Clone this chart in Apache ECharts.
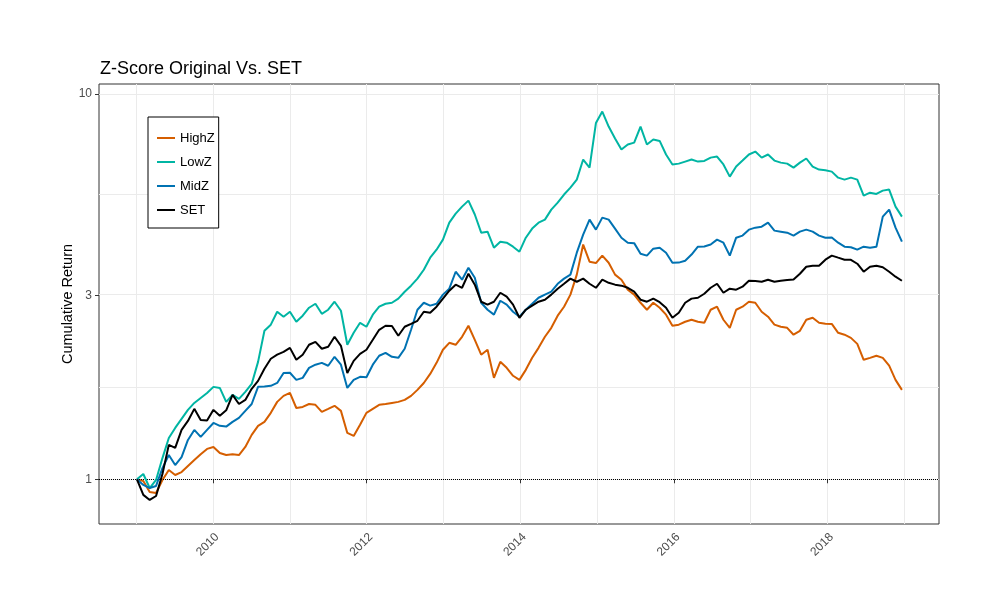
<!DOCTYPE html>
<html><head><meta charset="utf-8">
<script src="https://cdn.jsdelivr.net/npm/echarts@6/dist/echarts.min.js"></script>
<style>html,body{margin:0;padding:0;background:#fff}#c{width:1000px;height:600px}</style>
</head><body><div id="c"></div><script>
// Monthly observations, early January 2009 to late December 2018
const startYear = 2009.01;
const endYear = 2018.97;
const seriesNames = ['HighZ', 'LowZ', 'MidZ', 'SET'];
const highZ = [1.00,0.99,0.927,0.921,0.996,1.057,1.026,1.044,1.083,1.122,
1.162,1.199,1.213,1.170,1.156,1.162,1.156,1.213,1.304,1.376,
1.409,1.487,1.588,1.646,1.675,1.531,1.541,1.568,1.560,1.496,
1.523,1.551,1.505,1.319,1.296,1.385,1.487,1.523,1.560,1.568,
1.578,1.588,1.607,1.646,1.706,1.778,1.877,2.005,2.168,2.260,
2.234,2.343,2.503,2.301,2.105,2.168,1.833,2.017,1.946,1.856,
1.811,1.923,2.066,2.193,2.343,2.472,2.658,2.804,3.014,3.397,
4.065,3.669,3.64,3.805,3.647,3.397,3.295,3.104,3.014,2.871,
2.754,2.871,2.787,2.674,2.503,2.519,2.563,2.594,2.563,2.547,
2.754,2.804,2.594,2.472,2.754,2.804,2.889,2.871,2.721,2.641,
2.519,2.488,2.472,2.372,2.428,2.594,2.625,2.547,2.532,2.53,
2.399,2.372,2.328,2.246,2.042,2.066,2.092,2.066,1.971,1.811,
1.706];
const lowZ = [1.00,1.032,0.949,0.996,1.135,1.280,1.359,1.435,1.514,1.578,
1.626,1.675,1.737,1.726,1.588,1.656,1.617,1.686,1.768,2.017,
2.428,2.519,2.721,2.641,2.721,2.563,2.658,2.787,2.854,2.688,
2.754,2.889,2.738,2.234,2.399,2.547,2.488,2.674,2.804,2.854,
2.871,2.943,3.067,3.180,3.316,3.498,3.758,3.943,4.186,4.633,
4.889,5.099,5.285,4.864,4.364,4.391,3.989,4.136,4.110,4.014,
3.896,4.235,4.473,4.633,4.718,5.009,5.221,5.481,5.711,5.993,
6.755,6.438,8.4,9.0,8.228,7.662,7.171,7.392,7.476,8.228,
7.392,7.613,7.55,6.963,6.559,6.593,6.674,6.755,6.674,6.70,
6.834,6.877,6.559,6.101,6.478,6.714,6.963,7.085,6.834,6.963,
6.714,6.633,6.593,6.438,6.633,6.798,6.478,6.362,6.34,6.286,
6.063,5.993,6.063,5.993,5.447,5.543,5.50,5.611,5.645,5.099,
4.804];
const midZ = [1.00,0.967,0.949,0.961,1.069,1.156,1.089,1.142,1.265,1.343,
1.288,1.343,1.400,1.376,1.37,1.409,1.443,1.505,1.568,1.737,
1.74,1.748,1.778,1.888,1.89,1.811,1.833,1.946,1.983,2.005,
1.971,2.079,1.983,1.726,1.811,1.844,1.84,1.983,2.092,2.129,
2.079,2.066,2.181,2.443,2.754,2.871,2.822,2.854,3.014,3.123,
3.456,3.295,3.540,3.335,2.871,2.754,2.674,2.906,2.839,2.721,
2.641,2.754,2.854,2.958,3.014,3.067,3.216,3.316,3.397,3.872,
4.315,4.718,4.444,4.775,4.718,4.473,4.235,4.110,4.10,3.848,
3.805,3.967,3.989,3.872,3.647,3.65,3.692,3.829,4.014,4.02,
4.065,4.186,4.110,3.805,4.235,4.289,4.444,4.497,4.524,4.633,
4.418,4.391,4.364,4.289,4.391,4.444,4.391,4.289,4.235,4.24,
4.110,4.014,4.00,3.943,4.014,3.989,4.014,4.803,5.009,4.497,
4.136];
const setIdx = [1.00,0.911,0.884,0.905,1.032,1.228,1.206,1.343,1.417,1.523,
1.426,1.42,1.514,1.461,1.51,1.656,1.568,1.607,1.717,1.800,
1.936,2.055,2.105,2.142,2.193,2.042,2.105,2.234,2.273,2.181,
2.207,2.343,2.220,1.888,2.029,2.116,2.168,2.301,2.443,2.503,
2.50,2.358,2.488,2.532,2.578,2.721,2.704,2.804,2.943,3.085,
3.199,3.140,3.414,3.199,2.889,2.839,2.889,3.048,2.977,2.839,
2.625,2.754,2.822,2.889,2.924,3.014,3.123,3.216,3.316,3.255,
3.316,3.216,3.140,3.295,3.235,3.199,3.180,3.140,3.067,2.924,
2.889,2.943,2.88,2.787,2.625,2.704,2.871,2.943,2.958,3.030,
3.140,3.216,3.048,3.123,3.104,3.160,3.275,3.27,3.255,3.295,
3.255,3.275,3.29,3.30,3.414,3.561,3.582,3.58,3.714,3.805,
3.759,3.714,3.71,3.625,3.456,3.561,3.582,3.55,3.456,3.355,
3.275];
const xTickLabels = [2010, 2012, 2014, 2016, 2018];
const xMinorBreaks = [2009, 2011, 2013, 2015, 2017, 2019];
const yTickLabels = [1, 3, 10];
const yMinorBreaks = [Math.sqrt(3), Math.sqrt(30)];
const referenceLevel = 1;

const colors = ['#D55E00', '#00B5A3', '#0072B2', '#000000'];
const allData = [highZ, lowZ, midZ, setIdx];
const FONT = 'Liberation Sans, Arial, sans-serif';
const lg = v => Math.log10(v);
const step = (endYear - startYear) / (highZ.length - 1);
const toPts = arr => arr.map((v, i) => [startYear + i * step, lg(v)]);

const gridCol = '#EBEBEB';
const gridLines = [];
xTickLabels.forEach(x => gridLines.push({xAxis: x, lineStyle: {color: gridCol, width: 1, type: 'solid'}}));
xMinorBreaks.forEach(x => gridLines.push({xAxis: x, lineStyle: {color: gridCol, width: 1, type: 'solid'}}));
yTickLabels.forEach(y => gridLines.push({yAxis: lg(y), lineStyle: {color: gridCol, width: 1, type: 'solid'}}));
yMinorBreaks.forEach(y => gridLines.push({yAxis: lg(y), lineStyle: {color: gridCol, width: 1, type: 'solid'}}));

const series = [{
  type: 'line', data: [], silent: true, z: 0,
  markLine: {z: 0, symbol: ['none', 'none'], silent: true, label: {show: false}, animation: false, data: gridLines}
}];
seriesNames.forEach((n, i) => {
  series.push({
    name: n, type: 'line', data: toPts(allData[i]), symbol: 'none', showSymbol: false,
    lineStyle: {color: colors[i], width: 2}, itemStyle: {color: colors[i]}, z: 2 + i, animation: false
  });
});
series.push({
  type: 'line', data: [], silent: true, z: 3,
  markLine: {z: 3, symbol: ['none', 'none'], silent: true, label: {show: false}, animation: false,
    data: [{yAxis: lg(referenceLevel), lineStyle: {color: '#000', width: 1, type: 'dotted'}}]}
});

const chart = echarts.init(document.getElementById('c'));
chart.setOption({
  animation: false,
  backgroundColor: '#fff',
  title: {text: 'Z-Score Original Vs. SET', left: 95, top: 55,
    textStyle: {fontSize: 18, fontWeight: 'normal', color: '#000', fontFamily: FONT}},
  grid: {left: 99, right: 61, top: 84, bottom: 76, show: true, borderColor: '#333', borderWidth: 1, backgroundColor: '#fff'},
  legend: {orient: 'vertical', left: 148, top: 117, data: seriesNames, icon: 'rect', itemWidth: 18, itemHeight: 2, itemGap: 10,
    padding: [14, 4, 11, 9], borderColor: '#000', borderWidth: 1, backgroundColor: '#fff', z: 10,
    textStyle: {fontSize: 13, lineHeight: 14, color: '#000', fontFamily: FONT}},
  xAxis: {type: 'value', min: 2008.516, max: 2019.453,
    splitLine: {show: false}, axisLine: {show: false},
    axisTick: {show: true, customValues: xTickLabels, length: 4, lineStyle: {color: '#333'}},
    axisLabel: {customValues: xTickLabels, rotate: 45, color: '#4D4D4D', fontSize: 12, margin: 7, verticalAlign: 'top',
      fontFamily: FONT, formatter: v => String(Math.round(v))}},
  yAxis: {type: 'value', min: lg(0.7655), max: lg(10.61),
    name: 'Cumulative Return', nameLocation: 'middle', nameGap: 24, nameRotate: 90, nameMoveOverlap: false,
    nameTextStyle: {fontSize: 14.5, color: '#000', fontFamily: FONT},
    splitLine: {show: false}, axisLine: {show: false},
    axisTick: {show: true, customValues: yTickLabels.map(lg), length: 4, lineStyle: {color: '#333'}},
    axisLabel: {customValues: yTickLabels.map(lg), color: '#4D4D4D', fontSize: 12, margin: 7,
      fontFamily: FONT, formatter: v => String(Math.round(Math.pow(10, v)))}},
  series: series
});
</script></body></html>
